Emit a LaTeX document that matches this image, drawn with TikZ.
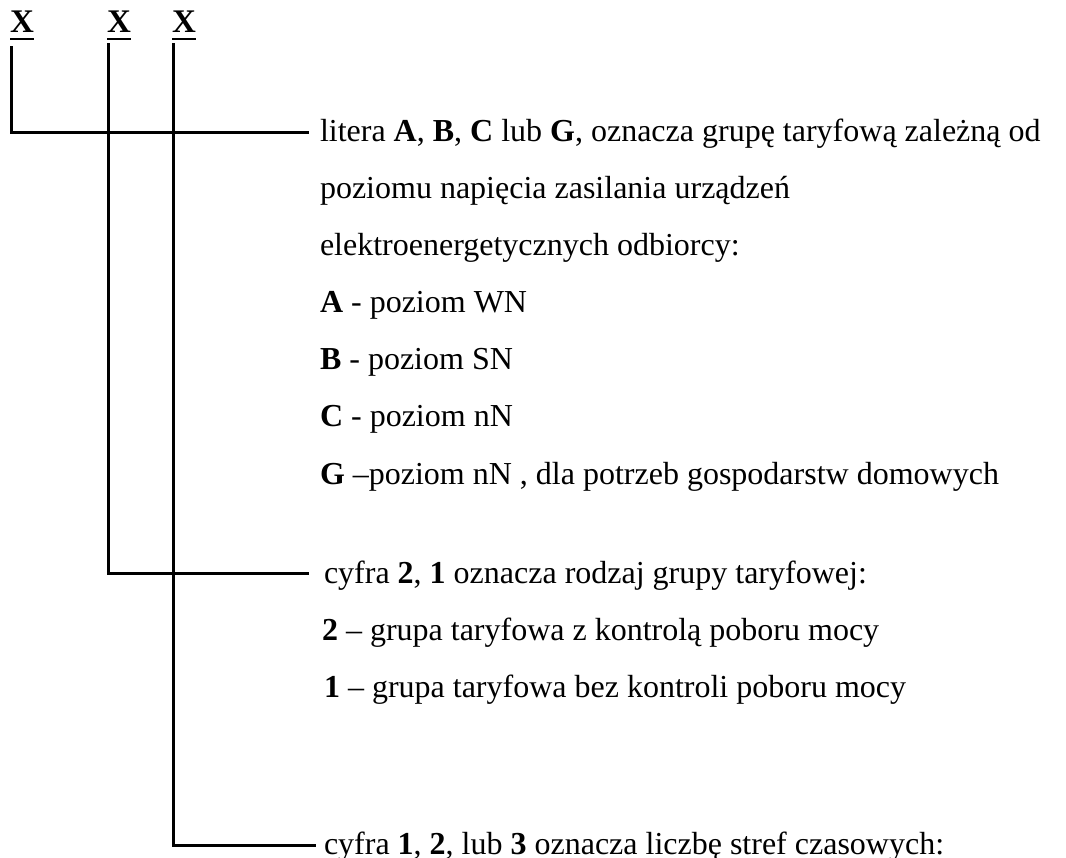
\documentclass[tikz,border=0pt]{standalone}
\usepackage{fontspec}
\setmainfont{Liberation Serif}
\begin{document}
\begin{tikzpicture}[x=1pt,y=-1pt,
  every node/.style={inner sep=0pt,outer sep=0pt},
  lbl/.style={anchor=base west,font=\fontsize{32}{38}\selectfont},
  xmark/.style={anchor=base west,font=\fontsize{33}{38}\selectfont\bfseries},
  uline/.style={line width=2.2pt},
  conn/.style={line width=3pt,line cap=rect,line join=miter}]
\useasboundingbox (0,0) rectangle (1066,858);
% the three X marks
\node[xmark] (x1) at (10,33) {X};
\node[xmark] (x2) at (107,33) {X};
\node[xmark] (x3) at (172,33) {X};
\draw[uline] ([yshift=-6pt]x1.south west) -- ([yshift=-6pt]x1.south east);
\draw[uline] ([yshift=-6pt]x2.south west) -- ([yshift=-6pt]x2.south east);
\draw[uline] ([yshift=-6pt]x3.south west) -- ([yshift=-6pt]x3.south east);
% texts
\node[lbl] (t1) at (320,142) {litera \textbf{A}, \textbf{B}, \textbf{C} lub \textbf{G}, oznacza grupę taryfową zależną od};
\node[lbl] (t2) at (320,199) {poziomu napięcia zasilania urządzeń};
\node[lbl] (t3) at (320,256) {elektroenergetycznych odbiorcy:};
\node[lbl] (t4) at (320,313) {\textbf{A} - poziom WN};
\node[lbl] (t5) at (320,370) {\textbf{B} - poziom SN};
\node[lbl] (t6) at (320,427) {\textbf{C} - poziom nN};
\node[lbl] (t7) at (320,484) {\textbf{G} –poziom nN , dla potrzeb gospodarstw domowych};
\node[lbl] (t8) at (324,583) {cyfra \textbf{2}, \textbf{1} oznacza rodzaj grupy taryfowej:};
\node[lbl] (t9) at (322,640) {\textbf{2} – grupa taryfowa z kontrolą poboru mocy};
\node[lbl] (t10) at (324,697) {\textbf{1} – grupa taryfowa bez kontroli poboru mocy};
\node[lbl] (t11) at (324,854) {cyfra \textbf{1}, \textbf{2}, lub \textbf{3} oznacza liczbę stref czasowych:};
% connector ends
\coordinate (c1) at (307,133);
\coordinate (c2) at (307,573);
\coordinate (c3) at (314,845);
\draw[conn] ([xshift=1.5pt,yshift=-15pt]x1.south west) |- (c1);
\draw[conn] ([xshift=1.5pt,yshift=-12pt]x2.south west) |- (c2);
\draw[conn] ([xshift=1.5pt,yshift=-12pt]x3.south west) |- (c3);
\end{tikzpicture}
\end{document}
